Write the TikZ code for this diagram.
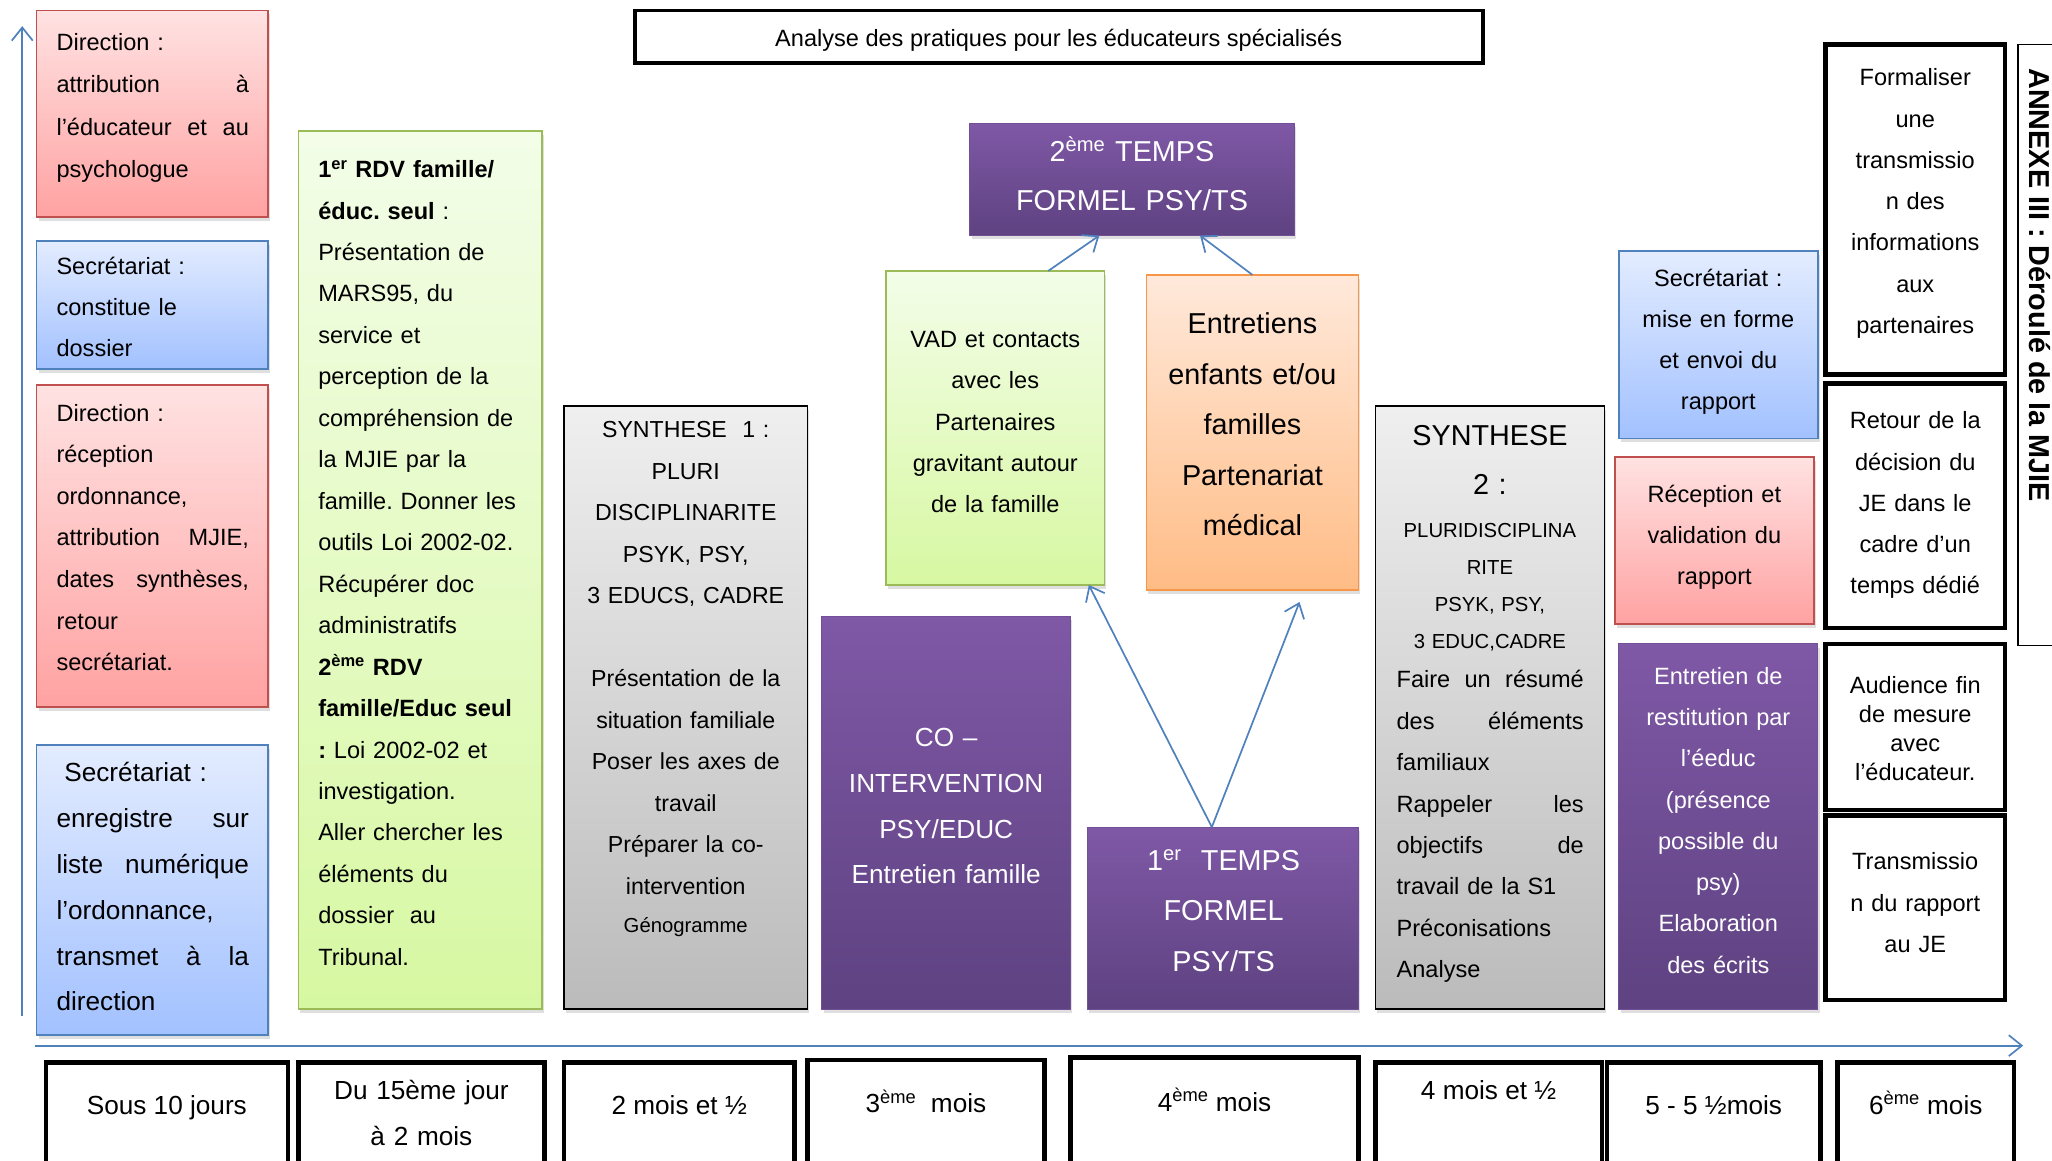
\documentclass[tikz,border=0pt]{standalone}
\usepackage{fontspec}
\setmainfont{Liberation Sans}
\usetikzlibrary{arrows.meta,shadows}
\frenchspacing
\definecolor{redtop}{HTML}{FFE2E2}
\definecolor{redbot}{HTML}{FFA2A2}
\definecolor{redln}{HTML}{C0504D}
\definecolor{bluetop}{HTML}{E3ECFF}
\definecolor{bluebot}{HTML}{A2C1FF}
\definecolor{blueln}{HTML}{4F81BD}
\definecolor{grntop}{HTML}{F3FDE8}
\definecolor{grnbot}{HTML}{D7F8A2}
\definecolor{grnln}{HTML}{9BBB59}
\definecolor{orgtop}{HTML}{FFE9DB}
\definecolor{orgbot}{HTML}{FFBC85}
\definecolor{orgln}{HTML}{F79646}
\definecolor{graytop}{HTML}{EFEFEF}
\definecolor{graybot}{HTML}{BBBBBB}
\definecolor{purtop}{HTML}{7F58A6}
\definecolor{purbot}{HTML}{5E4281}
\definecolor{axisblue}{HTML}{4F81BD}
\newcommand\fsz[2]{\fontsize{#1}{#2}\selectfont}
\begin{document}
\begin{tikzpicture}[x=1pt,y=-1pt,
  bx/.style={rectangle, inner sep=0pt, outer sep=0pt, anchor=north west},
  wh/.style 2 args={minimum width=#1pt, minimum height=#2pt},
  shd/.style={drop shadow={shadow xshift=1.5pt, shadow yshift=-3pt, opacity=0.25}},
  redbox/.style={bx, shd, draw=redln, line width=1.3pt, top color=redtop, bottom color=redbot},
  bluebox/.style={bx, shd, draw=blueln, line width=1.3pt, top color=bluetop, bottom color=bluebot},
  grnbox/.style={bx, shd, draw=grnln, line width=1.3pt, top color=grntop, bottom color=grnbot},
  orgbox/.style={bx, shd, draw=orgln, line width=1.3pt, top color=orgtop, bottom color=orgbot},
  graybox/.style={bx, shd, draw=black, line width=1.4pt, top color=graytop, bottom color=graybot},
  purbox/.style={bx, shd, draw=purtop!60!purbot, line width=0.6pt, top color=purtop, bottom color=purbot},
  blkbox/.style={bx, draw=black, line width=3.5pt, fill=white},
  lt/.style={inner sep=0pt, anchor=base west, align=left},
  ct/.style={inner sep=0pt, anchor=base, align=center},
  wt/.style={ct, text=white},
  barbtip/.style={-{Straight Barb[length=10pt,width=16pt,line width=1.3pt]}},
  conn/.style={barbtip, draw=axisblue, line width=1.3pt},
  axarrow/.style={barbtip, draw=axisblue, line width=1.5pt},
]
\fill[white] (0,0) rectangle (1568,887);
\useasboundingbox (0,0) rectangle (1568,887);

% axes
\coordinate (vbot) at (17,776);
\coordinate (vtop) at (17,20);
\draw[axarrow] (vbot) -- (vtop);
\coordinate (hl) at (27,799);
\coordinate (hr) at (1546,799);
\draw[axarrow] (hl) -- (hr);

% title
\node[blkbox, line width=3pt, wh={648}{40}] (title) at (485,8) {};
\node[ct, font=\fsz{18}{20}] (titlet) at (809,35.7) {Analyse des pratiques pour les éducateurs spécialisés};

% left column
\node[redbox, wh={177}{158}] (d1) at (28,8) {};
\node[lt, text width=147pt, font=\fsz{18}{32.3}] (d1t) at (43,38.7) {Direction :\\attribution\hfill à\\l’éducateur\hfill et\hfill au\\psychologue};

\node[bluebox, wh={177}{98}] (s1) at (28,184) {};
\node[lt, text width=147pt, font=\fsz{18}{31.5}] (s1t) at (43,209.7) {Secrétariat :\\constitue le\\dossier};

\node[redbox, wh={177}{246}] (d2) at (28,294) {};
\node[lt, text width=147pt, font=\fsz{18}{31.8}] (d2t) at (43,321.7) {Direction :\\réception\\ordonnance,\\attribution\hfill MJIE,\\dates\hfill synthèses,\\retour\\secrétariat.};

\node[bluebox, wh={177}{222}] (s2) at (28,569) {};
\node[lt, text width=147pt, font=\fsz{20}{35}] (s2t) at (43,597.4) {\hspace*{6pt}Secrétariat :\\enregistre\hfill sur\\liste\hfill numérique\\l’ordonnance,\\transmet\hfill à\hfill la\\direction};

% green column
\node[grnbox, wh={186}{671}] (g1) at (228,100) {};
\node[lt, text width=165pt, font=\fsz{18}{31.68}] (g1t) at (243,135.7) {\textbf{1\textsuperscript{er} RDV famille/}\\\textbf{éduc. seul} :\\Présentation de\\MARS95, du\\service et\\perception de la\\compréhension de\\la MJIE par la\\famille. Donner les\\outils Loi 2002-02.\\Récupérer doc\\administratifs\\\textbf{2\textsuperscript{ème} RDV}\\\textbf{famille/Educ seul}\\\textbf{:} Loi 2002-02 et\\investigation.\\Aller chercher les\\éléments du\\dossier\ \ au\\Tribunal.};

% synthese 1
\node[graybox, wh={186}{461}] (syn1) at (431,310) {};
\node[ct, text width=180pt, font=\fsz{17.7}{31.7}] (syn1t) at (524,334.5) {SYNTHESE\ \ 1 :\\PLURI\\DISCIPLINARITE\\PSYK, PSY,\\3 EDUCS, CADRE\\[31.7pt]Présentation de la\\situation familiale\\Poser les axes de\\travail\\Préparer la co-\\intervention\\[-2.5pt]{\fsz{15.5}{20}Génogramme}};

% co-intervention
\node[purbox, wh={190}{300}] (co) at (628,471) {};
\node[wt, text width=185pt, font=\fsz{20}{35}] (cot) at (723,570.4) {CO –\\INTERVENTION\\PSY/EDUC\\Entretien famille};

% VAD
\node[grnbox, wh={167}{240}] (vad) at (677,207) {};
\node[ct, text width=165pt, font=\fsz{18}{31.5}] (vadt) at (760.5,265.7) {VAD et contacts\\avec les\\Partenaires\\gravitant autour\\de la famille};

% Entretiens
\node[orgbox, wh={162}{241}] (ent) at (876,210) {};
\node[ct, text width=160pt, font=\fsz{22}{38.5}] (entt) at (957,255.1) {Entretiens\\enfants et/ou\\familles\\Partenariat\\médical};

% 2eme temps
\node[purbox, wh={248}{86}] (t2) at (741,94) {};
\node[wt, text width=245pt, font=\fsz{22}{38}] (t2t) at (865,123.1) {2\textsuperscript{ème} TEMPS\\FORMEL PSY/TS};

% 1er temps
\node[purbox, wh={207}{139}] (t1) at (831,632) {};
\node[wt, text width=205pt, font=\fsz{22}{38.5}] (t1t) at (935,665.1) {1\textsuperscript{er}\ \ TEMPS\\FORMEL\\PSY/TS};

% synthese 2
\node[graybox, wh={175}{461}] (syn2) at (1051,310) {};
\node[ct, text width=170pt, font=\fsz{22}{38}] (syn2a) at (1138.5,340.1) {SYNTHESE\\2 :};
\node[ct, text width=170pt, font=\fsz{15.5}{28.3}] (syn2b) at (1138.5,410.7) {PLURIDISCIPLINA\\RITE\\PSYK, PSY,\\3 EDUC,CADRE};
\node[lt, text width=143pt, font=\fsz{18}{31.6}] (syn2c) at (1067,525.7) {Faire\hfill un\hfill résumé\\des\hfill éléments\\familiaux\\Rappeler\hfill les\\objectifs\hfill de\\travail de la S1\\Préconisations\\Analyse};

% right colored column
\node[bluebox, wh={152}{143}] (sec2) at (1237,192) {};
\node[ct, text width=150pt, font=\fsz{18}{31.3}] (sec2t) at (1313,218.7) {Secrétariat :\\mise en forme\\et envoi du\\rapport};
\node[redbox, wh={152}{128}] (rec) at (1234,349) {};
\node[ct, text width=150pt, font=\fsz{18}{31.5}] (rect) at (1310,383.7) {Réception et\\validation du\\rapport};
\node[purbox, wh={152}{279}] (etr) at (1237,492) {};
\node[wt, text width=150pt, font=\fsz{18}{31.57}] (etrt) at (1313,522.7) {Entretien de\\restitution par\\l’éeduc\\(présence\\possible du\\psy)\\Elaboration\\des écrits};

% right black boxes
\node[blkbox, wh={137}{252}] (form) at (1395,34) {};
\node[ct, text width=135pt, font=\fsz{18}{31.5}] (formt) at (1463.5,65.7) {Formaliser\\une\\transmissio\\n des\\informations\\aux\\partenaires};
\node[blkbox, wh={137}{187}] (ret) at (1395,293) {};
\node[ct, text width=135pt, font=\fsz{18}{31.5}] (rett) at (1463.5,327.7) {Retour de la\\décision du\\JE dans le\\cadre d’un\\temps dédié};
\node[blkbox, wh={137}{127}] (aud) at (1395,492) {};
\node[ct, text width=135pt, font=\fsz{18}{22.3}] (audt) at (1463.5,529.7) {Audience fin\\de mesure\\avec\\l’éducateur.};
\node[blkbox, wh={137}{141}] (trans) at (1395,623) {};
\node[ct, text width=135pt, font=\fsz{18}{31.5}] (transt) at (1463.5,664.7) {Transmissio\\n du rapport\\au JE};

% annex
\node[bx, draw=black, line width=1pt, wh={40}{459}] (annex) at (1542,34) {};
\node[inner sep=0pt, rotate=-90, anchor=base west, font=\fsz{22}{26}\bfseries] (annext) at (1551,52) {ANNEXE III : Déroulé de la MJIE};

% bottom time boxes
\node[blkbox, wh={185}{90}] (b1) at (35,812) {};
\node[ct, font=\fsz{20}{35}] (b1t) at (127.5,851.4) {Sous 10 jours};
\node[blkbox, wh={188}{90}] (b2) at (228,812) {};
\node[ct, text width=185pt, font=\fsz{20}{35}] (b2t) at (322,840.4) {Du 15ème jour\\à 2 mois};
\node[blkbox, wh={176}{90}] (b3) at (431,812) {};
\node[ct, font=\fsz{20}{35}] (b3t) at (519,851.4) {2 mois et ½};
\node[blkbox, wh={181}{92}] (b4) at (617,810) {};
\node[ct, font=\fsz{20}{35}] (b4t) at (707.5,850.4) {3\textsuperscript{ème}\ \ mois};
\node[blkbox, wh={220}{94}] (b5) at (818,808) {};
\node[ct, font=\fsz{20}{35}] (b5t) at (928,849.4) {4\textsuperscript{ème} mois};
\node[blkbox, wh={173}{90}] (b6) at (1051,812) {};
\node[ct, font=\fsz{20}{35}] (b6t) at (1137.5,840.4) {4 mois et ½};
\node[blkbox, wh={163}{90}] (b7) at (1228,812) {};
\node[ct, font=\fsz{20}{35}] (b7t) at (1309.5,851.4) {5 - 5 ½mois};
\node[blkbox, wh={135}{90}] (b8) at (1404,812) {};
\node[ct, font=\fsz{20}{35}] (b8t) at (1471.5,851.4) {6\textsuperscript{ème} mois};

% connectors
\draw[conn] ([xshift=-43pt]vad.north east) -- ([xshift=-25pt]t2.south);
\draw[conn] (ent.north) -- ([xshift=52pt]t2.south);
\draw[conn] ([xshift=-8.5pt]t1.north) -- ([xshift=-12pt]vad.south east);
\draw[conn] ([xshift=-8.5pt]t1.north) -- ([xshift=-45pt,yshift=-9pt]ent.south east);
\end{tikzpicture}
\end{document}
